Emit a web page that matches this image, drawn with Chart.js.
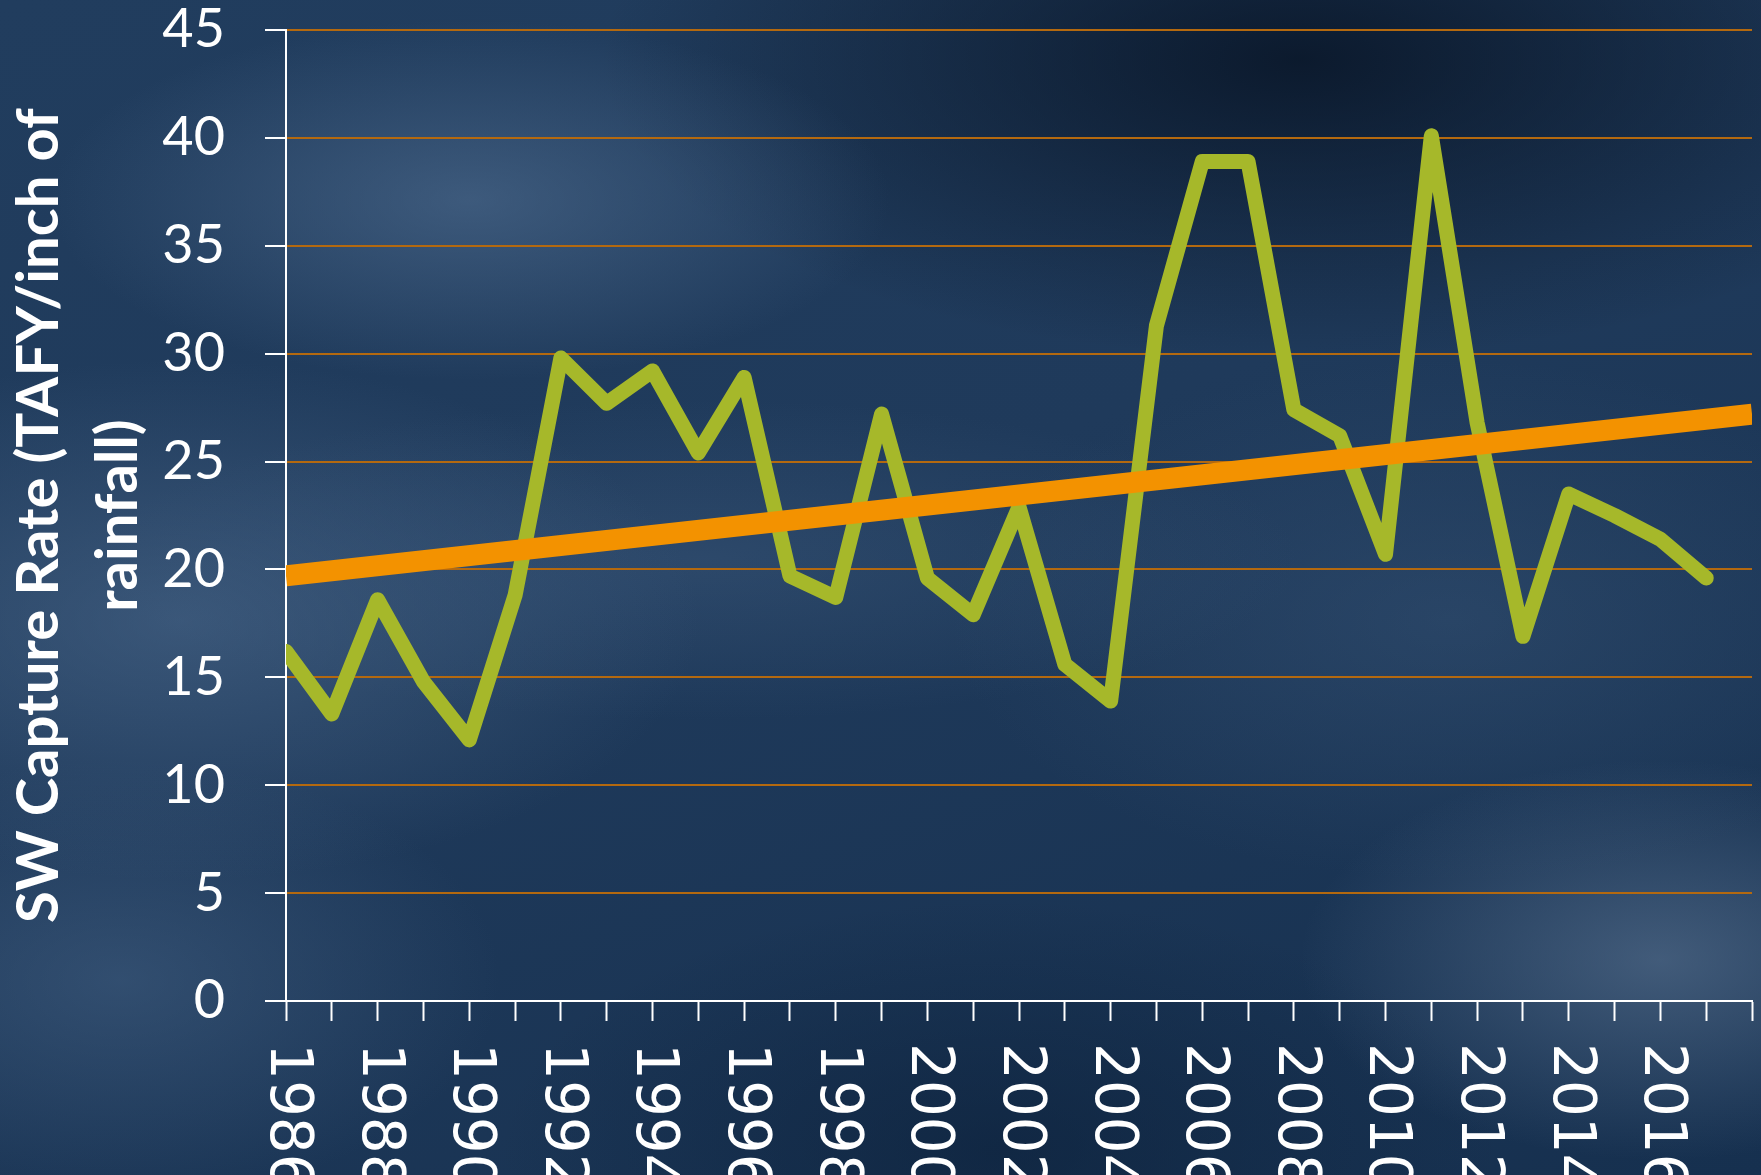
<!DOCTYPE html>
<html>
<head>
<meta charset="utf-8">
<script src="https://cdn.jsdelivr.net/npm/chart.js@4"></script>
<style>
    html, body {
        margin: 0;
        padding: 0;
    }
    body {
        width: 1761px;
        height: 1175px;
        overflow: hidden;
        background-color: #1c3657;
        background-image:
            radial-gradient(ellipse 420px 180px at 470px 200px, rgba(85, 115, 150, 0.55), rgba(85, 115, 150, 0) 100%),
            radial-gradient(ellipse 520px 260px at 180px 620px, rgba(80, 110, 145, 0.55), rgba(80, 110, 145, 0) 100%),
            radial-gradient(ellipse 600px 160px at 700px 560px, rgba(70, 100, 135, 0.35), rgba(70, 100, 135, 0) 100%),
            radial-gradient(ellipse 380px 220px at 120px 980px, rgba(75, 105, 140, 0.45), rgba(75, 105, 140, 0) 100%),
            radial-gradient(ellipse 360px 200px at 1660px 960px, rgba(100, 125, 155, 0.55), rgba(100, 125, 155, 0) 100%),
            radial-gradient(ellipse 500px 260px at 1450px 620px, rgba(65, 95, 130, 0.35), rgba(65, 95, 130, 0) 100%),
            radial-gradient(ellipse 700px 300px at 1300px 60px, rgba(5, 15, 30, 0.75), rgba(5, 15, 30, 0) 100%),
            radial-gradient(ellipse 500px 250px at 1000px 1150px, rgba(10, 30, 55, 0.55), rgba(10, 30, 55, 0) 100%),
            linear-gradient(160deg, #213d5e 0%, #1f3a5b 45%, #16304f 100%);
    }
    #wrap {
        position: relative;
        width: 1761px;
        height: 1175px;
    }
</style>
</head>
<body>
<div id="wrap">
    <canvas id="capture-chart"></canvas>
</div>
<script>
const years = ['1986', '1987', '1988', '1989', '1990', '1991', '1992', '1993', '1994', '1995', '1996',
    '1997', '1998', '1999', '2000', '2001', '2002', '2003', '2004', '2005', '2006', '2007', '2008',
    '2009', '2010', '2011', '2012', '2013', '2014', '2015', '2016', '2017', '2018'];

const captureRate = [16.2, 13.3, 18.6, 14.8, 12.1, 18.8, 29.8, 27.7, 29.2, 25.4, 28.9,
    19.7, 18.7, 27.2, 19.6, 17.9, 22.9, 15.6, 13.9, 31.3, 38.9, 38.9, 27.4,
    26.2, 20.7, 40.1, 26.8, 16.9, 23.5, 22.5, 21.4, 19.6, null];

// trend line at both ends
const trendLine = [19.7, null, null, null, null, null, null, null, null, null, null,
    null, null, null, null, null, null, null, null, null, null, null, null,
    null, null, null, null, null, null, null, null, null, 27.2];

const yearLabels = ['1986', '1988', '1990', '1992', '1994', '1996', '1998', '2000',
    '2002', '2004', '2006', '2008', '2010', '2012', '2014', '2016'];

const yTicks = [0, 5, 10, 15, 20, 25, 30, 35, 40, 45];

const axisTitle = ['SW Capture Rate (TAFY/inch of', 'rainfall)'];

// x labels run top-to-bottom in the original, so draw them by hand
const rotatedYearLabels = {
    id: 'rotatedYearLabels',
    afterDraw(chart) {
        const ctx = chart.ctx;
        const xScale = chart.scales.x;
        ctx.save();
        ctx.fillStyle = '#ffffff';
        ctx.font = '58px "DejaVu Sans"';
        ctx.textAlign = 'left';
        ctx.textBaseline = 'middle';
        years.forEach((year, i) => {
            if (!yearLabels.includes(year)) return;
            const x = xScale.getPixelForValue(i);
            ctx.save();
            ctx.translate(x, xScale.top + 42);
            ctx.rotate(Math.PI / 2);
            ctx.fillText(year, 0, 0);
            ctx.restore();
        });
        ctx.restore();
    }
};

function createCaptureChart() {
    const ctx = document.getElementById('capture-chart').getContext('2d');
    return new Chart(ctx, {
        type: 'line',
        data: {
            labels: years,
            datasets: [{
                label: 'Trend',
                data: trendLine,
                borderColor: '#f39200',
                borderWidth: 21,
                borderCapStyle: 'butt',
                pointRadius: 0,
                spanGaps: true,
                clip: 0,
                order: 0
            }, {
                label: 'SW Capture Rate',
                data: captureRate,
                borderColor: '#a6b82a',
                borderWidth: 15,
                borderJoinStyle: 'round',
                borderCapStyle: 'round',
                pointRadius: 0,
                tension: 0,
                clip: 0,
                order: 1
            }]
        },
        options: {
            responsive: true,
            maintainAspectRatio: false,
            animation: false,
            layout: {
                padding: { top: 0, right: 9, left: 0, bottom: 0 }
            },
            plugins: {
                legend: { display: false },
                tooltip: { enabled: false }
            },
            scales: {
                x: {
                    offset: false,
                    border: { color: '#ffffff', width: 2 },
                    grid: {
                        drawOnChartArea: false,
                        drawTicks: true,
                        tickLength: 20,
                        tickColor: '#ffffff',
                        tickWidth: 2
                    },
                    ticks: { display: false, autoSkip: false },
                    afterFit(scale) {
                        scale.height = 174;
                    }
                },
                y: {
                    min: 0,
                    max: 45,
                    afterBuildTicks(scale) {
                        scale.ticks = yTicks.map(v => ({ value: v }));
                    },
                    border: { color: '#ffffff', width: 2 },
                    grid: {
                        color: '#b4690f',
                        lineWidth: 2,
                        drawTicks: true,
                        tickLength: 21,
                        tickColor: '#ffffff',
                        tickWidth: 2
                    },
                    ticks: {
                        color: '#ffffff',
                        padding: 40,
                        font: { family: 'Lato', size: 54, lineHeight: 1.0 }
                    },
                    title: {
                        display: true,
                        text: axisTitle,
                        color: '#ffffff',
                        padding: 0,
                        font: { family: 'Lato', size: 58, weight: 'bold', lineHeight: 1.36 }
                    },
                    afterFit(scale) {
                        scale.width = 286;
                        scale.paddingTop = 30;
                        scale.paddingBottom = 0;
                    }
                }
            }
        },
        plugins: [rotatedYearLabels]
    });
}

createCaptureChart();
</script>
</body>
</html>
